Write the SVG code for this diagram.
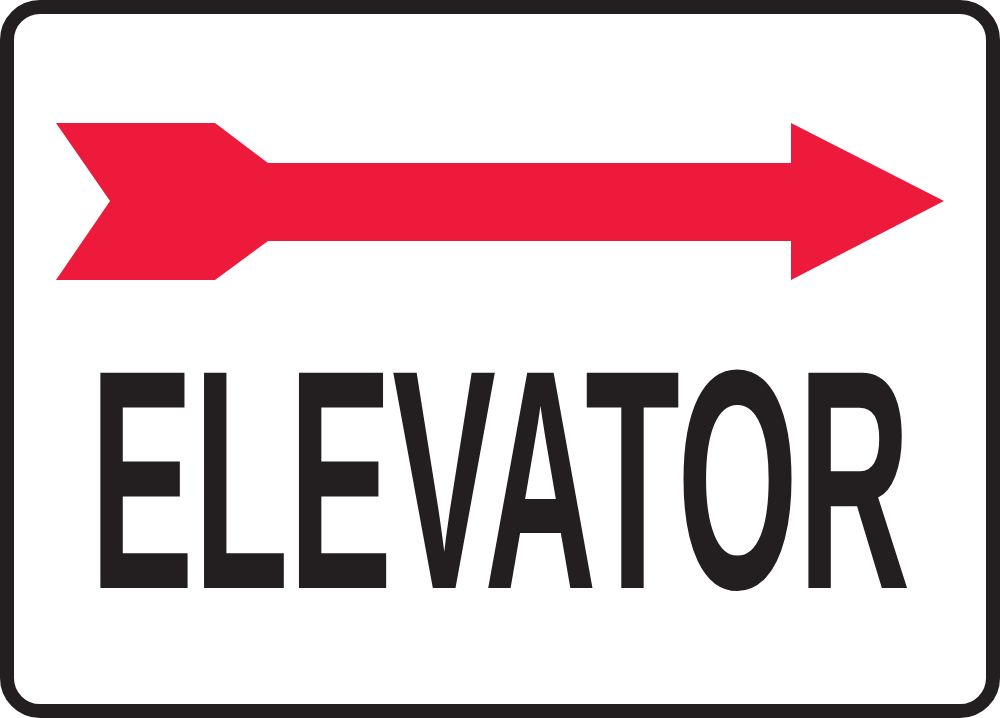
<svg xmlns="http://www.w3.org/2000/svg" width="1000" height="718" viewBox="0 0 1000 718">
<style>
.frame{fill:#fff;stroke:#231f20;stroke-width:14}
.arrow{fill:#ed1a3b}
.label{font-family:"Liberation Sans",Arial,sans-serif;font-weight:bold;font-size:313px;fill:#231f20}
</style>
<g id="sign">
<rect class="frame" x="7" y="7" width="986" height="704" rx="33" ry="33"/>
</g>
<g id="arrow">
<polygon class="arrow" points="56,123 215,123 268,163 791,163 791,123 944,201 791,280 791,241 268,241 215,280 56,280 110,201"/>
</g>
<g id="text">
<text class="label" transform="translate(90,588) scale(0.4965,1)" x="0" y="0">ELEVATOR</text>
</g>
</svg>
